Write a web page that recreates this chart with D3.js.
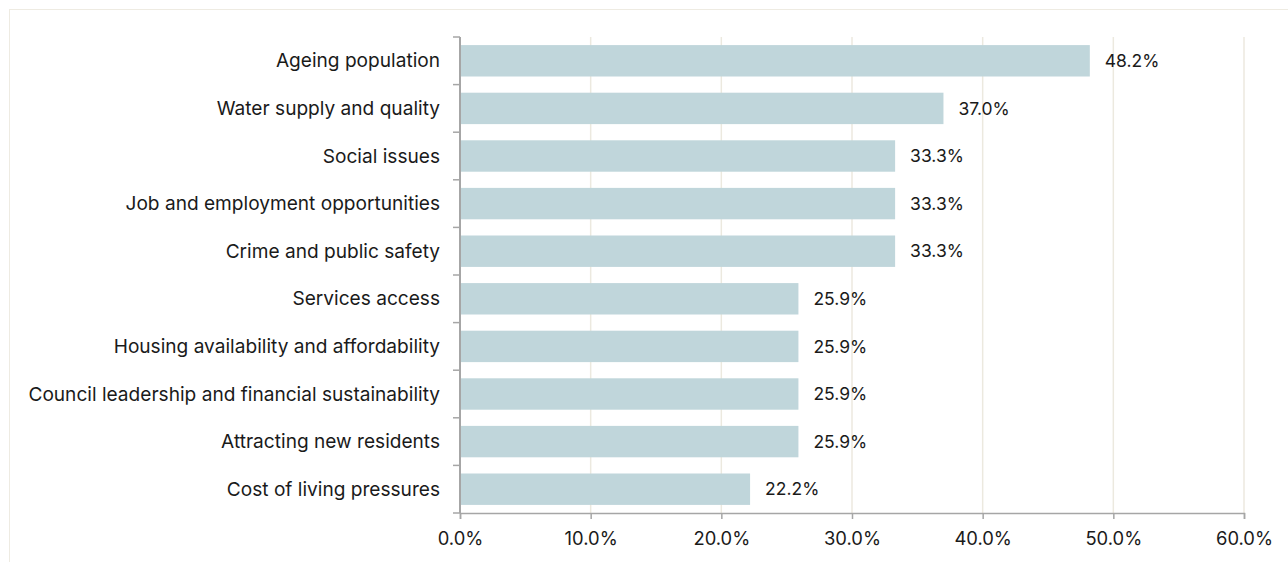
<!DOCTYPE html>
<html>
<head>
<meta charset="utf-8">
<script src="https://cdn.jsdelivr.net/npm/d3@7"></script>
<style>
  html, body { margin: 0; padding: 0; background: #ffffff; }
  svg { display: block; }
  text { font-family: "Inter", "Roboto", sans-serif; fill: #1a1a1a; }
</style>
</head>
<body>
<svg id="chart" width="1288" height="562"></svg>
<script>
// Issue categories, top to bottom
const categories = [
  "Ageing population",
  "Water supply and quality",
  "Social issues ",
  "Job and employment opportunities",
  "Crime and public safety",
  "Services access ",
  "Housing availability and affordability",
  "Council leadership and financial sustainability",
  "Attracting new residents",
  "Cost of living pressures"
];
// Share of respondents (%)
const values = [48.2, 37.0, 33.3, 33.3, 33.3, 25.9, 25.9, 25.9, 25.9, 22.2];
// X-axis ticks (%)
const xTicks = [0, 10, 20, 30, 40, 50, 60];

const svg = d3.select("#chart");
const W = 1288, H = 562;
const margin = { top: 37, right: 44, bottom: 49, left: 460 };
const innerW = W - margin.left - margin.right;
const innerH = H - margin.top - margin.bottom;
const labelSize = 19.1;

// Frame
svg.append("rect")
  .attr("x", 9.5).attr("y", 9.5)
  .attr("width", W).attr("height", H)
  .attr("fill", "none")
  .attr("stroke", "#eeebe2")
  .attr("stroke-width", 1);

const g = svg.append("g").attr("transform", `translate(${margin.left},${margin.top})`);

const x = d3.scaleLinear().domain([0, 60]).range([0, innerW]);
const y = d3.scaleBand().domain(categories).range([0, innerH]).paddingInner(0.34).paddingOuter(0.17);

// Vertical gridlines
g.append("g")
  .selectAll("line")
  .data(xTicks.slice(1))
  .join("line")
  .attr("x1", d => x(d)).attr("x2", d => x(d))
  .attr("y1", 0).attr("y2", innerH)
  .attr("stroke", "#ece9df")
  .attr("stroke-width", 1.5);

// Bars
g.append("g")
  .selectAll("rect")
  .data(values)
  .join("rect")
  .attr("x", 0)
  .attr("y", (d, i) => y(categories[i]))
  .attr("width", d => x(d))
  .attr("height", y.bandwidth())
  .attr("fill", "#c0d6db");

// Value labels
g.append("g")
  .selectAll("text")
  .data(values)
  .join("text")
  .attr("x", d => x(d) + 15)
  .attr("y", (d, i) => y(categories[i]) + y.bandwidth() / 2)
  .attr("dy", "0.35em")
  .attr("font-size", 17.5)
  .text(d => d.toFixed(1) + "%");

// X axis
const xAxis = g.append("g")
  .attr("transform", `translate(0,${innerH})`)
  .call(d3.axisBottom(x).tickValues(xTicks).tickSize(6).tickPadding(13)
    .tickFormat(d => d.toFixed(1) + "%"));
xAxis.select(".domain").attr("stroke", "#a6a6a6").attr("stroke-width", 1.5);
xAxis.selectAll(".tick line").attr("stroke", "#a6a6a6").attr("stroke-width", 1.5);
xAxis.selectAll(".tick text").attr("font-size", 18.4).attr("fill", "#1a1a1a")
  .style("font-family", '"Inter", "Roboto", sans-serif');

// Y axis: ticks at band boundaries
const bounds = d3.range(categories.length + 1).map(i => i * innerH / categories.length);
const yAxisG = g.append("g");
yAxisG.append("line")
  .attr("x1", 0).attr("x2", 0).attr("y1", 0).attr("y2", innerH)
  .attr("stroke", "#a6a6a6").attr("stroke-width", 2);
yAxisG.selectAll("line.tick")
  .data(bounds)
  .join("line")
  .attr("class", "tick")
  .attr("x1", -7).attr("x2", 0)
  .attr("y1", d => d).attr("y2", d => d)
  .attr("stroke", "#a6a6a6").attr("stroke-width", 1.5);
yAxisG.selectAll("text")
  .data(categories)
  .join("text")
  .attr("x", -20)
  .attr("y", d => y(d) + y.bandwidth() / 2)
  .attr("dy", "0.35em")
  .attr("text-anchor", "end")
  .attr("font-size", labelSize)
  .text(d => d);
</script>
</body>
</html>
